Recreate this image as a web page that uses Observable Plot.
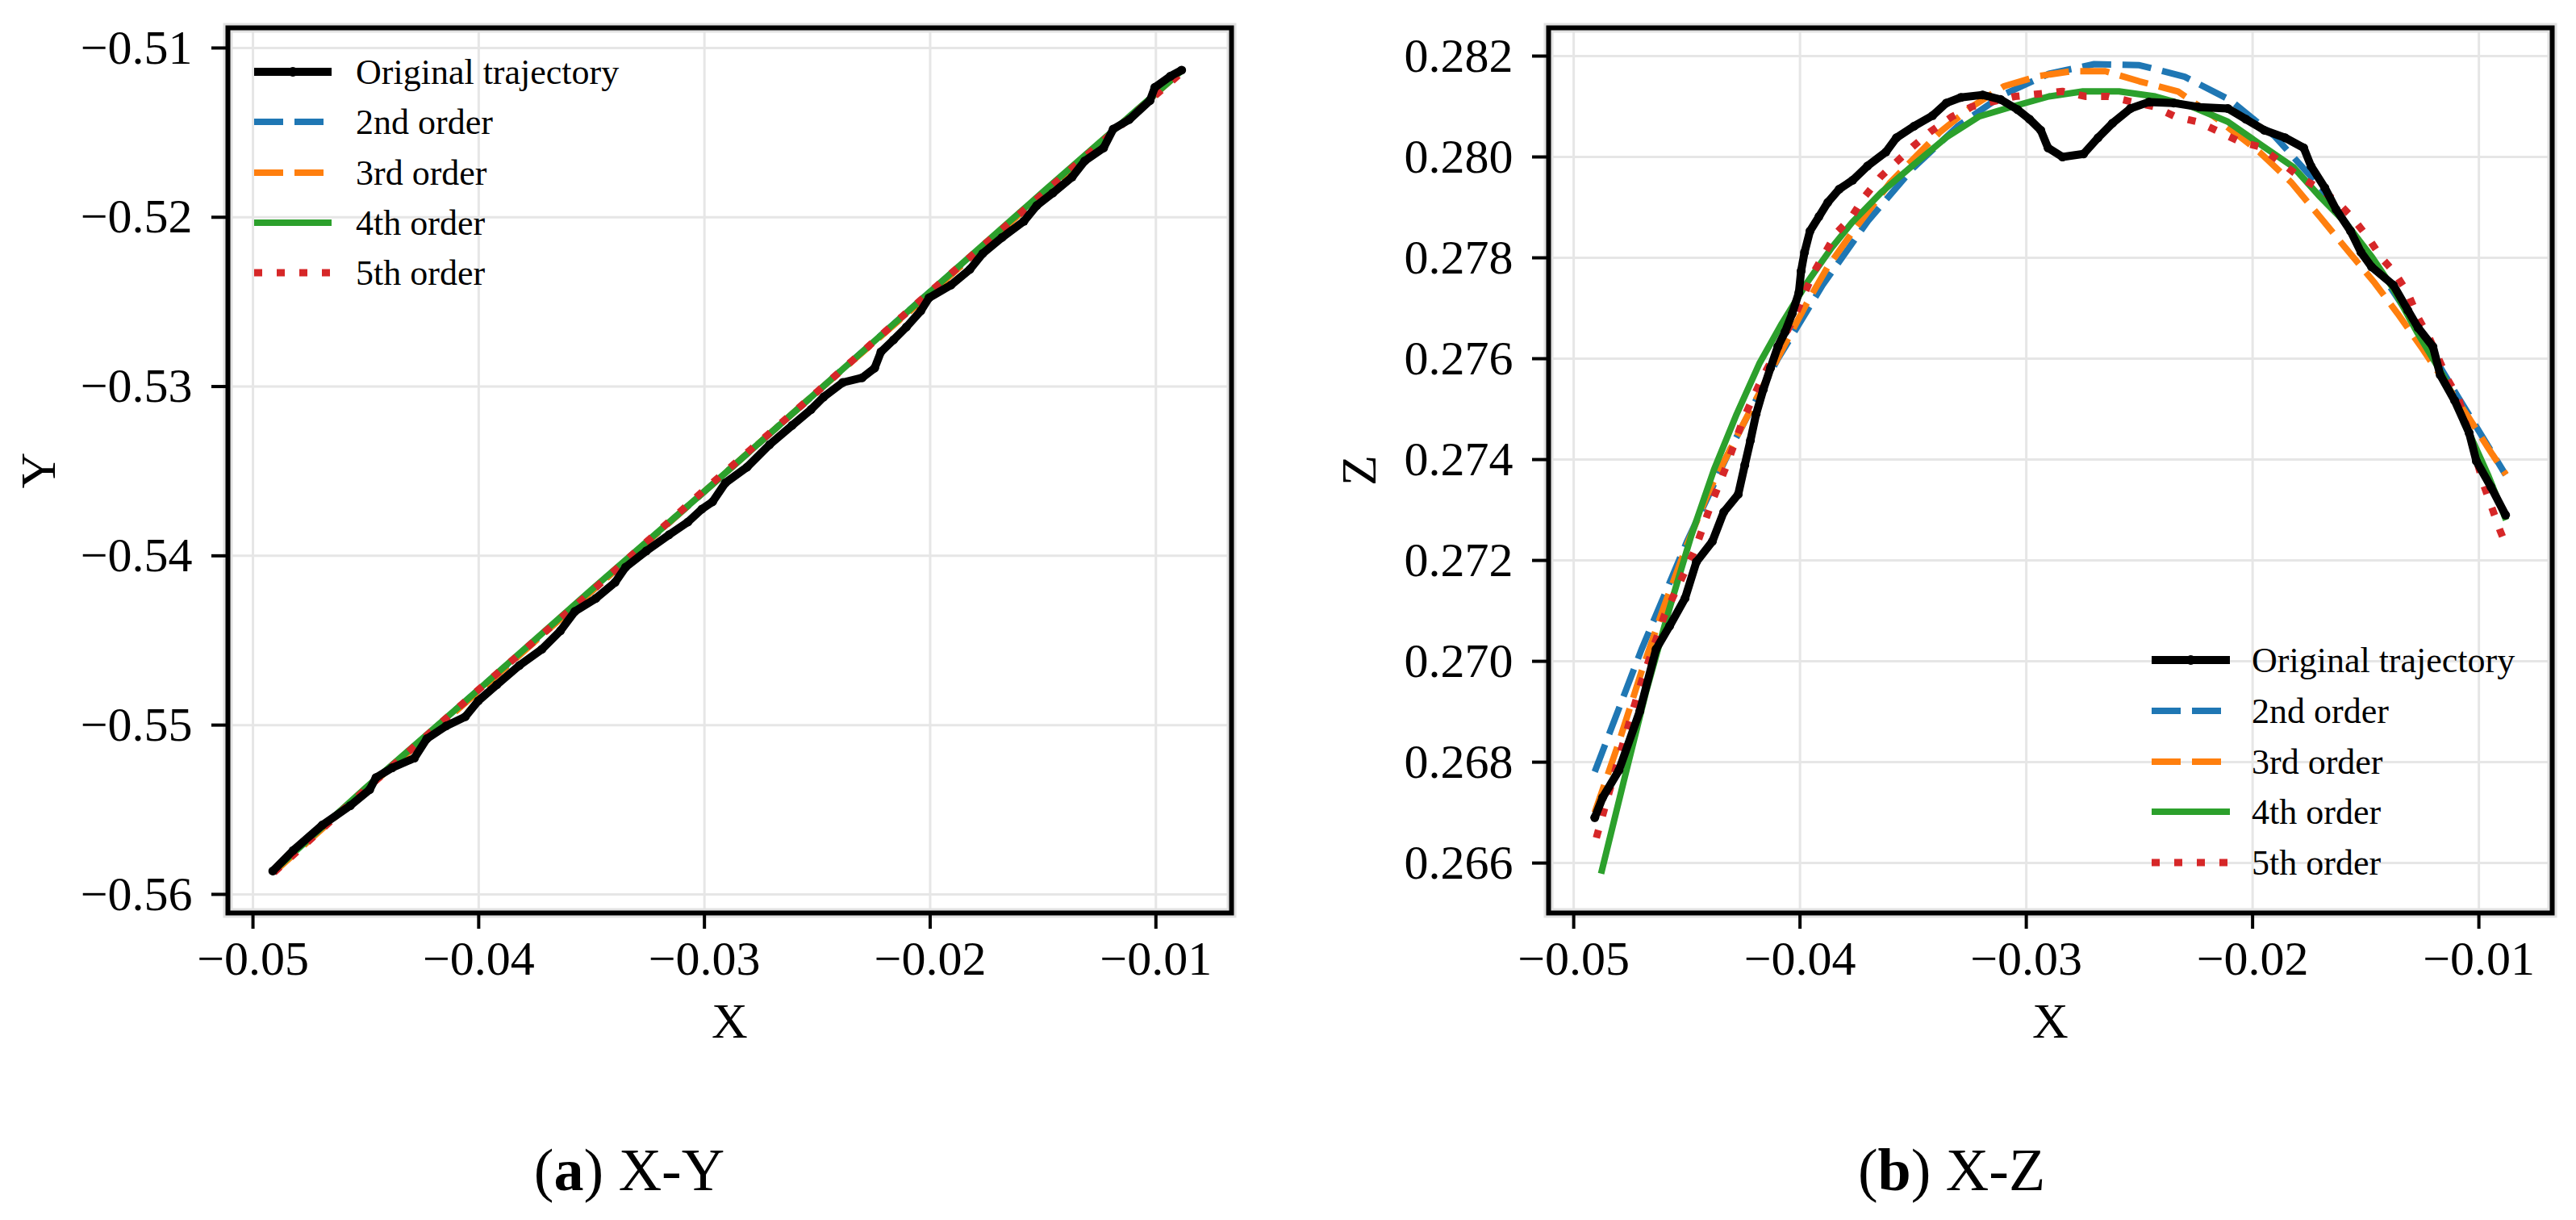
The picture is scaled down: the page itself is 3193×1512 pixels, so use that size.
<!DOCTYPE html>
<html>
<head>
<meta charset="utf-8">
<script src="https://cdn.jsdelivr.net/npm/d3@7"></script>
<script src="https://cdn.jsdelivr.net/npm/@observablehq/plot@0.6"></script>
<style>
html, body { margin: 0; padding: 0; background: #fff; }
#fig { position: relative; width: 3193px; height: 1512px; overflow: hidden; background: #fff; }
.panel { position: absolute; top: 0; }
#overlay { position: absolute; left: 0; top: 0; pointer-events: none; }
.panel text { font-family: "Liberation Serif", "Times New Roman", serif !important; }
</style>
</head>
<body>
<div id="fig">
  <div id="left" class="panel" style="left:0px;width:1596px;"></div>
  <div id="right" class="panel" style="left:1596px;width:1597px;"></div>
</div>
<script>
// ---------------- DATA ----------------
const xTicks = [-0.05, -0.04, -0.03, -0.02, -0.01];
const yTicksXY = [-0.56, -0.55, -0.54, -0.53, -0.52, -0.51];
const zTicksXZ = [0.266, 0.268, 0.270, 0.272, 0.274, 0.276, 0.278, 0.280, 0.282];
const seriesNames = ["Original trajectory", "2nd order", "3rd order", "4th order", "5th order"];

// (a) X-Y : original trajectory
const xyOrigX = [-0.04912,-0.04822,-0.04693,-0.04569,-0.04483,-0.04455,-0.04383,-0.04285,-0.04230,-0.04144,-0.04059,-0.04002,-0.03920,-0.03820,-0.03720,-0.03638,-0.03574,-0.03481,-0.03396,-0.03349,-0.03257,-0.03157,-0.03073,-0.03011,-0.02964,-0.02907,-0.02811,-0.02711,-0.02611,-0.02528,-0.02472,-0.02387,-0.02301,-0.02246,-0.02218,-0.02162,-0.02105,-0.02041,-0.02005,-0.01907,-0.01824,-0.01767,-0.01681,-0.01585,-0.01528,-0.01456,-0.01371,-0.01315,-0.01232,-0.01189,-0.01118,-0.01026,-0.01005,-0.00936,-0.00886];
const xyOrigY = [-0.55862,-0.55741,-0.55591,-0.55476,-0.55381,-0.55310,-0.55252,-0.55195,-0.55081,-0.55005,-0.54950,-0.54857,-0.54762,-0.54648,-0.54552,-0.54443,-0.54329,-0.54252,-0.54157,-0.54067,-0.53971,-0.53876,-0.53800,-0.53724,-0.53681,-0.53569,-0.53476,-0.53343,-0.53229,-0.53136,-0.53062,-0.52976,-0.52948,-0.52891,-0.52795,-0.52724,-0.52648,-0.52552,-0.52476,-0.52400,-0.52308,-0.52214,-0.52119,-0.52024,-0.51931,-0.51856,-0.51762,-0.51667,-0.51591,-0.51479,-0.51423,-0.51310,-0.51233,-0.51167,-0.51131];
// (a) X-Y : fitted curves
const xyFitX = [-0.04907, -0.045, -0.040, -0.035, -0.030, -0.025, -0.020, -0.015, -0.00882];
const xyOrder2 = [-0.5586, -0.5538, -0.5479, -0.5421, -0.5362, -0.5303, -0.5244, -0.5186, -0.5113];
const xyOrder3 = [-0.5587, -0.5538, -0.5480, -0.5421, -0.5362, -0.5303, -0.5245, -0.5186, -0.5113];
const xyOrder4 = [-0.5586, -0.5537, -0.5479, -0.5420, -0.5362, -0.5303, -0.5244, -0.5185, -0.5113];
const xyOrder5 = [-0.5587, -0.5538, -0.5479, -0.5421, -0.5361, -0.5303, -0.5244, -0.5186, -0.5114];

// (b) X-Z : original trajectory
const xzOrigX = [-0.04907,-0.04872,-0.04800,-0.04708,-0.04636,-0.04576,-0.04508,-0.04458,-0.04387,-0.04337,-0.04273,-0.04244,-0.04219,-0.04194,-0.04162,-0.04130,-0.04098,-0.04066,-0.04034,-0.04005,-0.03995,-0.03980,-0.03956,-0.03916,-0.03877,-0.03827,-0.03767,-0.03702,-0.03620,-0.03574,-0.03496,-0.03414,-0.03353,-0.03289,-0.03193,-0.03114,-0.03039,-0.02986,-0.02936,-0.02904,-0.02840,-0.02747,-0.02683,-0.02619,-0.02540,-0.02458,-0.02348,-0.02237,-0.02109,-0.02030,-0.01948,-0.01856,-0.01774,-0.01742,-0.01681,-0.01631,-0.01567,-0.01521,-0.01474,-0.01378,-0.01314,-0.01268,-0.01203,-0.01171,-0.01107,-0.01043,-0.01011,-0.00947,-0.00882];
const xzOrigZ = [0.26690,0.26730,0.26784,0.26901,0.27024,0.27070,0.27125,0.27197,0.27238,0.27296,0.27331,0.27389,0.27438,0.27490,0.27539,0.27582,0.27624,0.27653,0.27690,0.27731,0.27774,0.27811,0.27853,0.27882,0.27910,0.27936,0.27954,0.27982,0.28010,0.28038,0.28061,0.28082,0.28107,0.28118,0.28123,0.28114,0.28094,0.28075,0.28053,0.28018,0.28000,0.28006,0.28038,0.28067,0.28096,0.28109,0.28107,0.28099,0.28096,0.28075,0.28053,0.28038,0.28018,0.27982,0.27939,0.27896,0.27853,0.27811,0.27782,0.27746,0.27696,0.27661,0.27624,0.27568,0.27517,0.27453,0.27397,0.27346,0.27290];
// (b) X-Z : 2nd order
const xzO2X = [-0.04907,-0.047,-0.045,-0.043,-0.041,-0.039,-0.037,-0.035,-0.033,-0.031,-0.029,-0.027,-0.025,-0.023,-0.021,-0.019,-0.017,-0.015,-0.013,-0.011,-0.00882];
const xzO2Z = [0.26781,0.27024,0.27237,0.27428,0.27598,0.27746,0.27873,0.27978,0.28062,0.28124,0.28165,0.28184,0.28182,0.28159,0.28113,0.28040,0.27940,0.27815,0.27680,0.27530,0.27370];
// (b) X-Z : 3rd order
const xzO3X = [-0.04907,-0.0480,-0.0470,-0.0460,-0.0450,-0.0440,-0.0432,-0.0424,-0.0410,-0.0397,-0.0388,-0.0377,-0.0360,-0.0338,-0.0324,-0.0310,-0.0295,-0.0280,-0.0265,-0.0250,-0.0233,-0.0217,-0.0197,-0.0183,-0.0170,-0.0159,-0.0146,-0.0136,-0.0125,-0.0104,-0.0094,-0.0088];
const xzO3Z = [0.2670,0.2684,0.2698,0.2711,0.2723,0.2734,0.2741,0.2748,0.2760,0.2771,0.2778,0.2785,0.2795,0.2805,0.2810,0.2814,0.2816,0.2817,0.2817,0.2815,0.2813,0.2808,0.2801,0.2795,0.2788,0.2782,0.2775,0.2769,0.2762,0.2748,0.2741,0.2737];
// (b) X-Z : 4th order
const xzO4X = [-0.04879,-0.0478,-0.0468,-0.0458,-0.0448,-0.0438,-0.0428,-0.0418,-0.0408,-0.0397,-0.0386,-0.0377,-0.0364,-0.0351,-0.0335,-0.0321,-0.0306,-0.0290,-0.0275,-0.0259,-0.0243,-0.0227,-0.0211,-0.0195,-0.0182,-0.0170,-0.0159,-0.0147,-0.0138,-0.0127,-0.0115,-0.0106,-0.0096,-0.0088];
const xzO4Z = [0.26579,0.2676,0.2694,0.2710,0.2725,0.2738,0.2749,0.2759,0.2767,0.2775,0.2782,0.2787,0.2793,0.2798,0.2804,0.2808,0.2810,0.2812,0.2813,0.2813,0.2812,0.2810,0.2807,0.2802,0.2798,0.2792,0.2787,0.2780,0.2774,0.2765,0.2756,0.2747,0.2737,0.2728];
// (b) X-Z : 5th order
const xzO5X = [-0.0490,-0.0480,-0.0470,-0.0460,-0.04465,-0.04394,-0.04323,-0.04251,-0.04169,-0.04027,-0.03941,-0.03838,-0.03774,-0.03717,-0.03645,-0.03574,-0.03503,-0.03424,-0.03328,-0.03239,-0.0305,-0.0284,-0.02736,-0.02636,-0.0254,-0.02437,-0.02341,-0.02244,-0.02148,-0.02055,-0.01966,-0.01877,-0.01791,-0.01713,-0.01624,-0.0156,-0.01489,-0.01431,-0.01371,-0.01314,-0.01267,-0.01218,-0.01178,-0.01139,-0.01089,-0.0103,-0.00979,-0.00939,-0.00907,-0.0088];
const xzO5Z = [0.2665,0.2681,0.2696,0.2709,0.2722,0.2731,0.2739,0.2748,0.2756,0.2768,0.2777,0.2785,0.2788,0.2792,0.2796,0.2799,0.2802,0.2805,0.2808,0.2810,0.2812,0.2813,0.2812,0.2812,0.2811,0.2810,0.2808,0.2807,0.2805,0.2803,0.2802,0.2799,0.2796,0.2794,0.2791,0.2788,0.2784,0.2780,0.2777,0.2773,0.2768,0.2764,0.2760,0.2756,0.2752,0.2743,0.2735,0.2730,0.2726,0.2723];

// ---------------- STYLE ----------------
const FONT = "Liberation Serif, Times New Roman, serif";
const fitStyles = [
  {stroke: "#1f77b4", strokeWidth: 8, strokeDasharray: "36,14"},
  {stroke: "#ff7f0e", strokeWidth: 8, strokeDasharray: "36,14"},
  {stroke: "#2ca02c", strokeWidth: 8},
  {stroke: "#d62728", strokeWidth: 9, strokeDasharray: "10,18"}
];
const origStyle = {stroke: "#000000", strokeWidth: 10};

const pts = (xs, ys) => xs.map((x, i) => ({x, y: ys[i]}));

function panel({width, marginLeft, marginRight, xDomain, yDomain, yTicks, yFmt, yLabel, orig, fits}) {
  const grid = {stroke: "#e6e6e6", strokeOpacity: 1, strokeWidth: 3};
  const txt = {fontFamily: FONT};
  return Plot.plot({
    width, height: 1300,
    marginLeft, marginRight, marginTop: 34, marginBottom: 169,
    style: {fontFamily: FONT, fontSize: "60px", background: "transparent", color: "black", overflow: "visible"},
    x: {domain: xDomain, label: null},
    y: {domain: yDomain, label: null},
    marks: [
      Plot.gridX({ticks: xTicks, ...grid}),
      Plot.gridY({ticks: yTicks, ...grid}),
      ...fits.map((f, i) => Plot.line(f, {x: "x", y: "y", ...fitStyles[i], strokeLinecap: "butt", strokeLinejoin: "round"})),
      Plot.line(orig, {x: "x", y: "y", ...origStyle, strokeLinejoin: "round"}),
      Plot.dot(orig, {x: "x", y: "y", r: 5.5, fill: "#000", stroke: null}),
      Plot.frame({stroke: "#e2e2e2", strokeWidth: 12}),
      Plot.frame({stroke: "#000", strokeWidth: 6}),
      Plot.axisX({ticks: xTicks, tickSize: 20, tickPadding: 14, strokeWidth: 4, tickFormat: d3.format(".2f"), fontSize: 60, label: null, ...txt}),
      Plot.axisY({ticks: yTicks, tickSize: 20, tickPadding: 24, strokeWidth: 4, tickFormat: d3.format(yFmt), fontSize: 60, label: null, ...txt}),
      Plot.text(["X"], {text: d => d, frameAnchor: "bottom", lineAnchor: "middle", dy: 135, fontSize: 62, ...txt}),
      Plot.text([yLabel], {text: d => d, frameAnchor: "left", lineAnchor: "middle", textAnchor: "middle", dx: -234, rotate: -90, fontSize: 62, ...txt})
    ]
  });
}

const leftPlot = panel({
  width: 1596, marginLeft: 282, marginRight: 70,
  xDomain: [-0.05111, -0.00665], yDomain: [-0.5611, -0.50881],
  yTicks: yTicksXY, yFmt: ".2f", yLabel: "Y",
  orig: pts(xyOrigX, xyOrigY),
  fits: [pts(xyFitX, xyOrder2), pts(xyFitX, xyOrder3), pts(xyFitX, xyOrder4), pts(xyFitX, xyOrder5)]
});
document.getElementById("left").appendChild(leftPlot);

const rightPlot = panel({
  width: 1597, marginLeft: 323, marginRight: 30,
  xDomain: [-0.05111, -0.00676], yDomain: [0.26501, 0.28256],
  yTicks: zTicksXZ, yFmt: ".3f", yLabel: "Z",
  orig: pts(xzOrigX, xzOrigZ),
  fits: [pts(xzO2X, xzO2Z), pts(xzO3X, xzO3Z), pts(xzO4X, xzO4Z), pts(xzO5X, xzO5Z)]
});
document.getElementById("right").appendChild(rightPlot);

// ---------------- LEGENDS & CAPTIONS ----------------
const svg = d3.select("#fig").append("svg")
  .attr("id", "overlay").attr("width", 3193).attr("height", 1512)
  .attr("font-family", FONT);

function legend(x1, x2, tx, rows) {
  const g = svg.append("g");
  seriesNames.forEach((name, i) => {
    const y = rows[i];
    const st = i === 0 ? origStyle : fitStyles[i - 1];
    g.append("line").attr("x1", x1).attr("x2", x2).attr("y1", y).attr("y2", y)
      .attr("stroke", st.stroke).attr("stroke-width", st.strokeWidth)
      .attr("stroke-dasharray", st.strokeDasharray || null);
    if (i === 0) g.append("circle").attr("cx", (x1 + x2) / 2).attr("cy", y).attr("r", 6).attr("fill", "#000");
    g.append("text").attr("x", tx).attr("y", y).attr("dy", "0.33em")
      .attr("font-size", 44).attr("fill", "#000").text(name);
  });
}
legend(315, 411, 441, [89, 151, 214, 276, 338]);
legend(2667, 2764, 2791, [818, 881, 944, 1006, 1069]);

function caption(x, letter, rest) {
  const t = svg.append("text").attr("x", x).attr("y", 1475).attr("text-anchor", "middle")
    .attr("font-size", 74).attr("fill", "#000");
  t.append("tspan").text("(");
  t.append("tspan").attr("font-weight", "bold").text(letter);
  t.append("tspan").text(") " + rest);
}
caption(780, "a", "X-Y");
caption(2419, "b", "X-Z");
</script>
</body>
</html>
